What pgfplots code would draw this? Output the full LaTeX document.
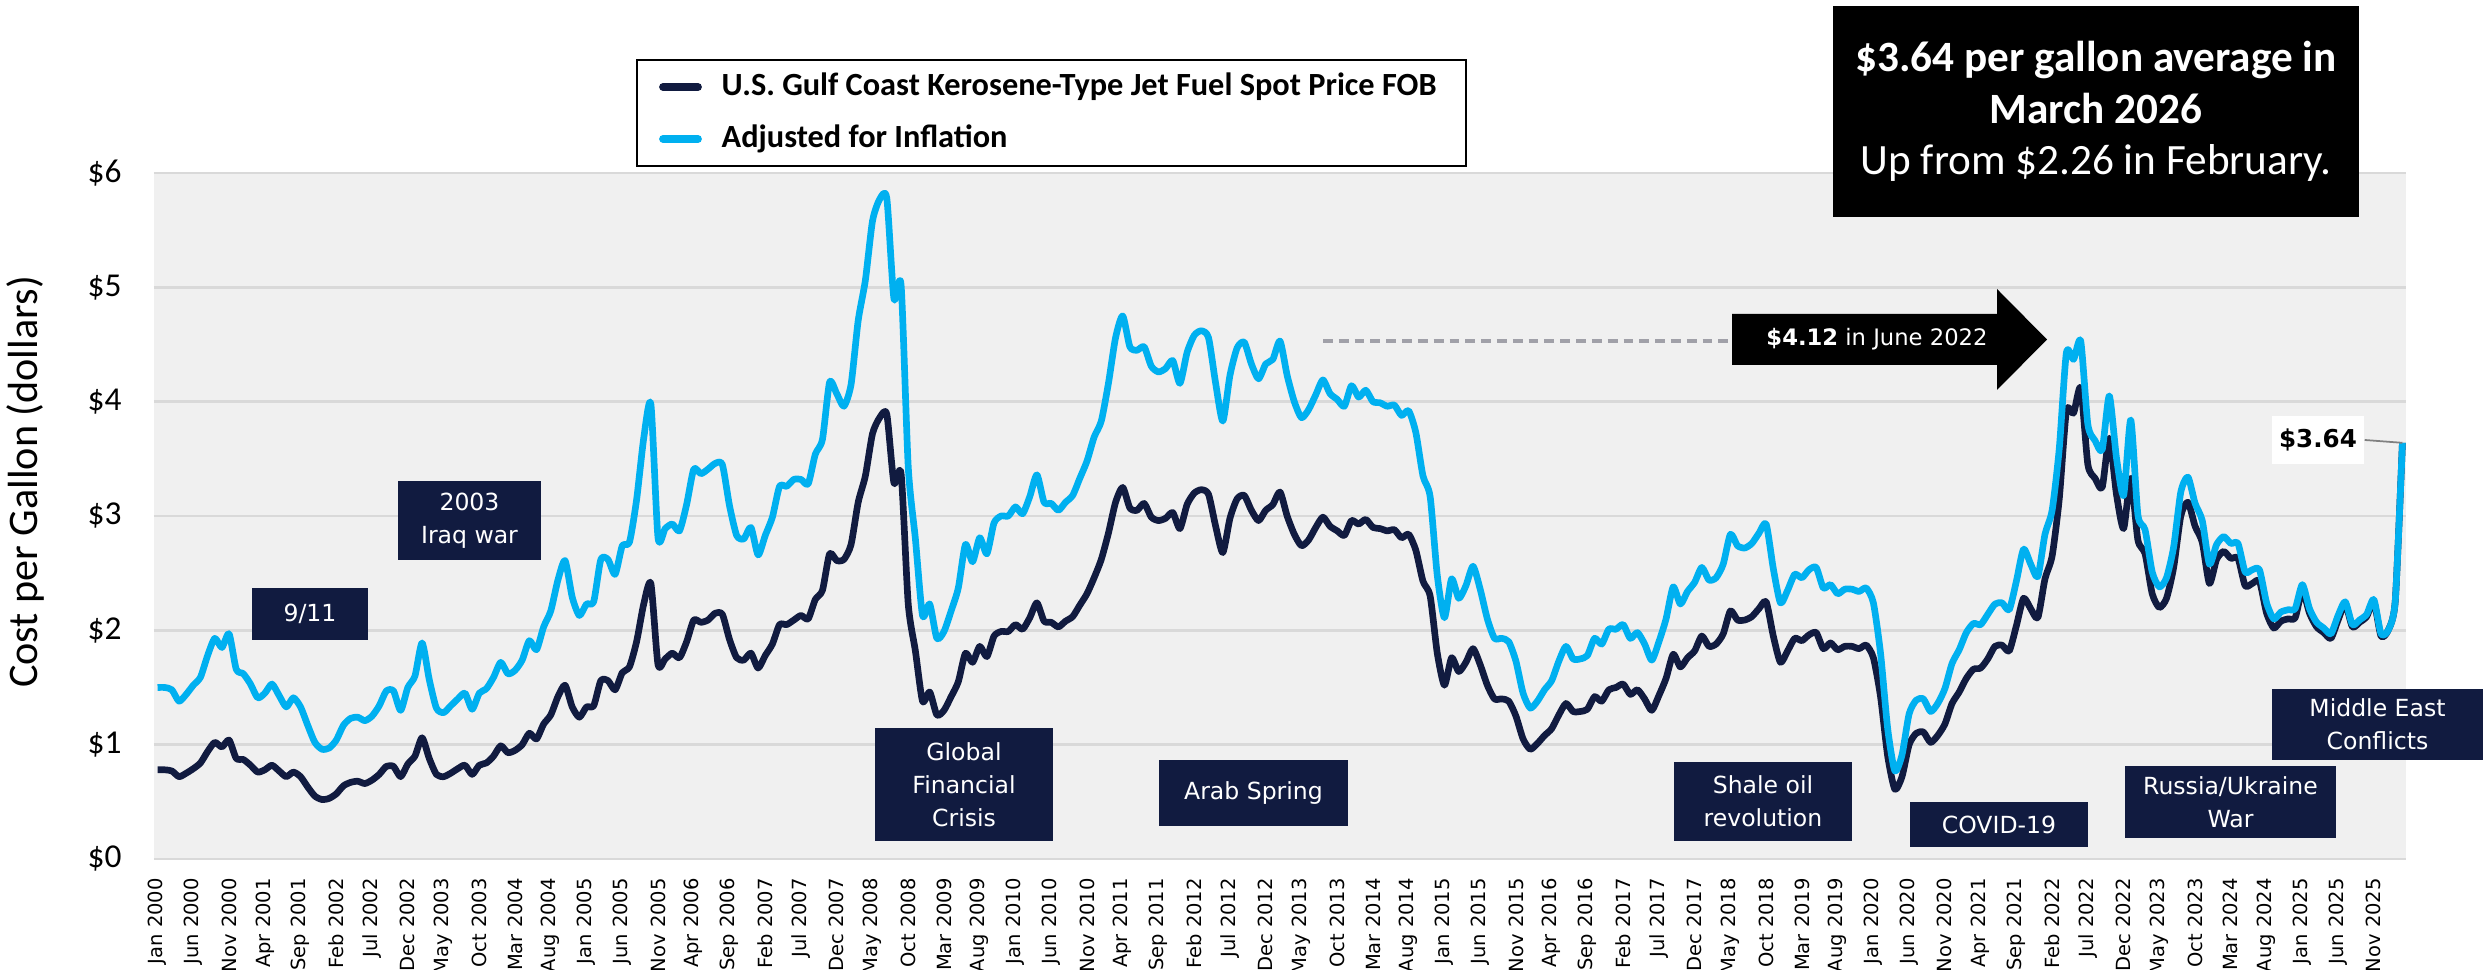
\documentclass[border=0pt]{standalone}
\usepackage{pgfplots}
\usepackage{pgfplotstable}
\pgfplotsset{compat=1.18}
\usepackage{fontspec}
\setmainfont{Carlito}
\newfontfamily\dv{DejaVu Sans}
\definecolor{navy}{RGB}{17,27,64}
\definecolor{sky}{RGB}{0,176,240}
\definecolor{gridc}{RGB}{217,217,217}
\definecolor{bgc}{RGB}{240,240,240}
\definecolor{dashc}{RGB}{160,160,168}

\pgfplotstableread{
i nom adj
0 0.78 1.50
1 0.78 1.50
2 0.77 1.48
3 0.72 1.38
4 0.75 1.44
5 0.79 1.52
6 0.84 1.59
7 0.94 1.78
8 1.02 1.93
9 0.98 1.85
10 1.04 1.97
11 0.88 1.66
12 0.87 1.62
13 0.82 1.53
14 0.76 1.41
15 0.78 1.45
16 0.82 1.53
17 0.77 1.43
18 0.72 1.33
19 0.76 1.41
20 0.72 1.33
21 0.63 1.17
22 0.55 1.02
23 0.52 0.96
24 0.53 0.97
25 0.57 1.04
26 0.64 1.17
27 0.67 1.23
28 0.68 1.24
29 0.66 1.21
30 0.69 1.25
31 0.74 1.34
32 0.81 1.47
33 0.81 1.47
34 0.72 1.30
35 0.83 1.50
36 0.90 1.60
37 1.06 1.89
38 0.88 1.57
39 0.74 1.32
40 0.72 1.28
41 0.75 1.34
42 0.79 1.40
43 0.82 1.45
44 0.74 1.31
45 0.82 1.45
46 0.84 1.49
47 0.90 1.59
48 0.99 1.72
49 0.93 1.62
50 0.95 1.65
51 1.00 1.74
52 1.10 1.91
53 1.05 1.83
54 1.18 2.03
55 1.26 2.17
56 1.42 2.44
57 1.52 2.61
58 1.33 2.29
59 1.24 2.13
60 1.33 2.23
61 1.34 2.25
62 1.56 2.62
63 1.56 2.62
64 1.48 2.49
65 1.63 2.74
66 1.68 2.77
67 1.90 3.14
68 2.23 3.68
69 2.41 3.98
70 1.70 2.81
71 1.75 2.89
72 1.80 2.93
73 1.76 2.87
74 1.90 3.10
75 2.09 3.41
76 2.07 3.37
77 2.09 3.41
78 2.15 3.46
79 2.14 3.45
80 1.92 3.09
81 1.76 2.83
82 1.74 2.80
83 1.80 2.90
84 1.67 2.66
85 1.78 2.83
86 1.88 2.99
87 2.05 3.26
88 2.05 3.26
89 2.09 3.32
90 2.13 3.32
91 2.10 3.28
92 2.27 3.54
93 2.35 3.67
94 2.67 4.17
95 2.61 4.07
96 2.62 3.96
97 2.75 4.15
98 3.12 4.71
99 3.35 5.06
100 3.72 5.58
101 3.86 5.77
102 3.89 5.78
103 3.29 4.90
104 3.37 5.02
105 2.23 3.43
106 1.82 2.80
107 1.38 2.13
108 1.46 2.23
109 1.26 1.93
110 1.30 1.99
111 1.42 2.17
112 1.55 2.37
113 1.80 2.75
114 1.72 2.60
115 1.86 2.81
116 1.77 2.67
117 1.95 2.94
118 1.99 3.00
119 1.99 3.00
120 2.05 3.08
121 2.01 3.02
122 2.11 3.17
123 2.24 3.36
124 2.08 3.12
125 2.07 3.11
126 2.03 3.05
127 2.08 3.12
128 2.12 3.18
129 2.22 3.33
130 2.32 3.48
131 2.46 3.69
132 2.62 3.83
133 2.85 4.16
134 3.12 4.56
135 3.25 4.75
136 3.07 4.48
137 3.05 4.45
138 3.11 4.48
139 2.99 4.31
140 2.96 4.26
141 2.98 4.29
142 3.03 4.36
143 2.89 4.16
144 3.10 4.43
145 3.20 4.58
146 3.23 4.62
147 3.19 4.56
148 2.91 4.16
149 2.68 3.83
150 2.98 4.23
151 3.15 4.47
152 3.18 4.52
153 3.05 4.33
154 2.96 4.20
155 3.05 4.33
156 3.10 4.37
157 3.21 4.53
158 3.00 4.23
159 2.84 4.00
160 2.74 3.86
161 2.79 3.93
162 2.90 4.06
163 2.99 4.19
164 2.91 4.07
165 2.87 4.02
166 2.83 3.96
167 2.96 4.14
168 2.93 4.04
169 2.97 4.10
170 2.90 4.00
171 2.89 3.99
172 2.87 3.96
173 2.88 3.97
174 2.81 3.88
175 2.84 3.92
176 2.70 3.73
177 2.43 3.35
178 2.30 3.17
179 1.80 2.48
180 1.52 2.11
181 1.76 2.45
182 1.64 2.28
183 1.72 2.39
184 1.84 2.56
185 1.70 2.36
186 1.52 2.10
187 1.40 1.93
188 1.40 1.93
189 1.38 1.90
190 1.25 1.73
191 1.05 1.45
192 0.96 1.32
193 1.01 1.38
194 1.08 1.48
195 1.14 1.56
196 1.26 1.73
197 1.36 1.86
198 1.29 1.75
199 1.29 1.75
200 1.31 1.78
201 1.42 1.93
202 1.38 1.88
203 1.48 2.01
204 1.50 2.01
205 1.53 2.05
206 1.44 1.93
207 1.48 1.98
208 1.40 1.88
209 1.30 1.74
210 1.43 1.90
211 1.58 2.10
212 1.79 2.38
213 1.68 2.23
214 1.76 2.34
215 1.82 2.42
216 1.95 2.55
217 1.86 2.44
218 1.88 2.46
219 1.97 2.58
220 2.17 2.84
221 2.09 2.74
222 2.09 2.72
223 2.12 2.76
224 2.19 2.85
225 2.25 2.93
226 1.95 2.54
227 1.72 2.24
228 1.82 2.35
229 1.93 2.49
230 1.91 2.46
231 1.96 2.53
232 1.98 2.55
233 1.84 2.37
234 1.89 2.40
235 1.83 2.32
236 1.86 2.36
237 1.86 2.36
238 1.84 2.34
239 1.87 2.37
240 1.76 2.24
241 1.42 1.80
242 0.90 1.14
243 0.61 0.77
244 0.72 0.91
245 1.00 1.27
246 1.10 1.39
247 1.11 1.40
248 1.02 1.29
249 1.08 1.36
250 1.18 1.49
251 1.36 1.71
252 1.46 1.83
253 1.58 1.98
254 1.66 2.06
255 1.67 2.05
256 1.75 2.14
257 1.86 2.23
258 1.87 2.24
259 1.82 2.18
260 2.04 2.43
261 2.28 2.71
262 2.19 2.58
263 2.11 2.47
264 2.45 2.84
265 2.65 3.05
266 3.15 3.59
267 3.92 4.43
268 3.90 4.37
269 4.12 4.53
270 3.45 3.80
271 3.33 3.66
272 3.25 3.58
273 3.68 4.05
274 3.19 3.51
275 2.89 3.18
276 3.33 3.84
277 2.79 3.01
278 2.67 2.88
279 2.32 2.51
280 2.20 2.38
281 2.28 2.46
282 2.55 2.73
283 3.00 3.21
284 3.12 3.34
285 2.91 3.11
286 2.77 2.96
287 2.41 2.58
288 2.62 2.75
289 2.69 2.82
290 2.63 2.76
291 2.63 2.76
292 2.39 2.51
293 2.41 2.53
294 2.43 2.53
295 2.15 2.24
296 2.02 2.10
297 2.08 2.16
298 2.10 2.18
299 2.11 2.19
300 2.35 2.40
301 2.15 2.19
302 2.03 2.07
303 1.98 2.02
304 1.93 1.97
305 2.09 2.13
306 2.23 2.25
307 2.03 2.05
308 2.07 2.09
309 2.12 2.14
310 2.25 2.27
311 1.95 1.97
312 2.00 2.00
313 2.26 2.26
314 3.64 3.64
}\jetdata

\tikzset{ann/.style={fill=navy, text=white, align=center, inner sep=0pt, font=\dv\fontsize{6.7}{9.4}\selectfont}}

\begin{document}
\begin{tikzpicture}
\useasboundingbox (0,0) rectangle (24.84,9.70);
\begin{axis}[
  at={(1.54cm,1.11cm)}, anchor=south west,
  scale only axis, width=22.52cm, height=6.86cm,
  xmin=-0.5, xmax=314.5, ymin=0, ymax=6,
  axis line style={draw=none},
  major tick length=0pt,
  axis background/.style={fill=bgc},
  ymajorgrids=true,
  major grid style={gridc, line width=0.7pt},
  ytick={0,1,2,3,4,5,6},
  yticklabels={\$0,\$1,\$2,\$3,\$4,\$5,\$6},
  yticklabel style={font=\fontsize{9.5}{11}\selectfont},
  yticklabel shift=0.2cm,
  xtick={0,5,...,310},
  xticklabels={Jan 2000,Jun 2000,Nov 2000,Apr 2001,Sep 2001,Feb 2002,Jul 2002,Dec 2002,May 2003,Oct 2003,Mar 2004,Aug 2004,Jan 2005,Jun 2005,Nov 2005,Apr 2006,Sep 2006,Feb 2007,Jul 2007,Dec 2007,May 2008,Oct 2008,Mar 2009,Aug 2009,Jan 2010,Jun 2010,Nov 2010,Apr 2011,Sep 2011,Feb 2012,Jul 2012,Dec 2012,May 2013,Oct 2013,Mar 2014,Aug 2014,Jan 2015,Jun 2015,Nov 2015,Apr 2016,Sep 2016,Feb 2017,Jul 2017,Dec 2017,May 2018,Oct 2018,Mar 2019,Aug 2019,Jan 2020,Jun 2020,Nov 2020,Apr 2021,Sep 2021,Feb 2022,Jul 2022,Dec 2022,May 2023,Oct 2023,Mar 2024,Aug 2024,Jan 2025,Jun 2025,Nov 2025},
  xticklabel style={rotate=90, anchor=east, inner sep=1pt, font=\dv\fontsize{5.55}{6}\selectfont},
  xticklabel shift=0.15cm,
  clip=false,
]
\addplot[navy, line width=1.9pt, smooth, tension=0.4, line join=round] table[x=i, y=nom] {\jetdata};
\addplot[sky, line width=1.9pt, smooth, tension=0.4, line join=round] table[x=i, y=adj] {\jetdata};
\coordinate (last) at (axis cs:314,3.64);
\end{axis}

% y axis label
\node[rotate=90, font=\fontsize{12}{14}\selectfont] at (0.25,4.88) {Cost per Gallon (dollars)};

% legend
\draw[black, line width=0.6pt, fill=white] (6.37,9.10) rectangle (14.66,8.04);
\draw[navy, line width=2.2pt, line cap=round] (6.63,8.83) -- (6.98,8.83);
\draw[sky, line width=2.2pt, line cap=round] (6.63,8.31) -- (6.98,8.31);
\node[anchor=west, inner sep=0pt, font=\bfseries\fontsize{9.2}{11}\selectfont] at (7.21,8.83) {U.S. Gulf Coast Kerosene-Type Jet Fuel Spot Price FOB};
\node[anchor=west, inner sep=0pt, font=\bfseries\fontsize{9.2}{11}\selectfont] at (7.21,8.31) {Adjusted for Inflation};

% big black box
\node[fill=black, text=white, minimum width=5.26cm, minimum height=2.11cm, align=center, inner sep=0pt, font=\fontsize{12.3}{14.7}\selectfont] at (20.96,8.585) {\textbf{\$3.64 per gallon average in}\\\textbf{March 2026}\\Up from \$2.26 in February.};

% dashed line and arrow
\draw[dashc, line width=1pt, dash pattern=on 2.8pt off 1.7pt] (13.23,6.29) -- (17.32,6.29);
\fill[black] (17.32,6.56) -- (19.97,6.56) -- (19.97,6.81) -- (20.47,6.305) -- (19.97,5.80) -- (19.97,6.05) -- (17.32,6.05) -- cycle;
\node[text=white, font=\dv\fontsize{6.45}{7}\selectfont] at (18.77,6.305) {\textbf{\$4.12} in June 2022};

% $3.64 label
\node[fill=white, minimum width=0.92cm, minimum height=0.48cm, inner sep=0pt, font=\dv\bfseries\fontsize{7}{8}\selectfont] (lab) at (23.18,5.30) {\$3.64};
\draw[gray, line width=0.5pt] (lab.east) -- (last);

% annotation boxes
\node[ann, minimum width=1.16cm, minimum height=0.52cm] at (3.10,3.56) {9/11};
\node[ann, minimum width=1.43cm, minimum height=0.79cm] at (4.695,4.495) {2003\\Iraq war};
\node[ann, minimum width=1.78cm, minimum height=1.13cm] at (9.64,1.855) {Global\\Financial\\Crisis};
\node[ann, minimum width=1.89cm, minimum height=0.66cm] at (12.535,1.77) {Arab Spring};
\node[ann, minimum width=1.78cm, minimum height=0.79cm] at (17.63,1.685) {Shale oil\\revolution};
\node[ann, minimum width=1.78cm, minimum height=0.45cm] at (19.99,1.455) {COVID-19};
\node[ann, minimum width=2.11cm, minimum height=0.72cm] at (22.305,1.68) {Russia/Ukraine\\War};
\node[ann, minimum width=2.11cm, minimum height=0.71cm] at (23.775,2.455) {Middle East\\Conflicts};
\end{tikzpicture}
\end{document}
